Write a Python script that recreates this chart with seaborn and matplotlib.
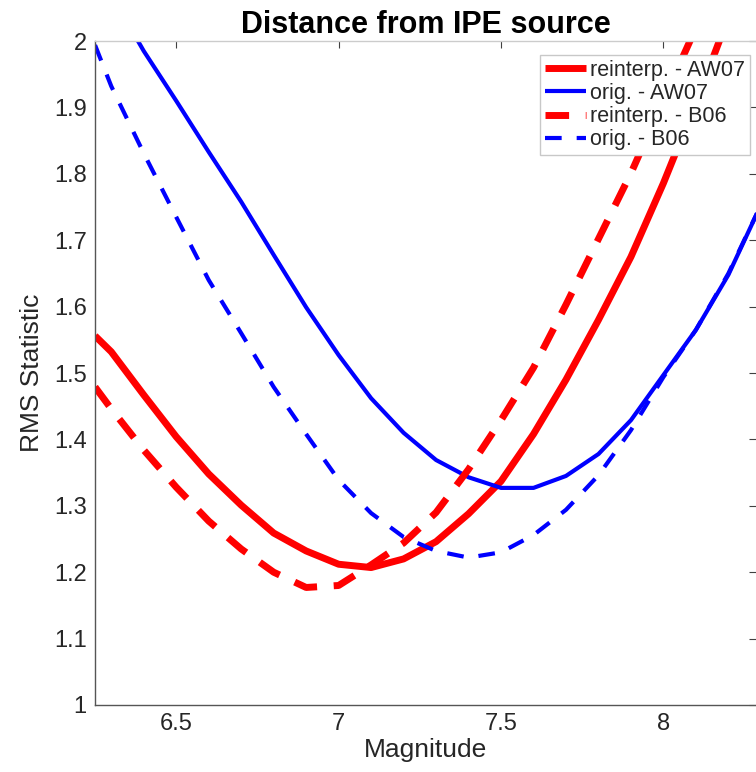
import matplotlib
matplotlib.use("Agg")
import matplotlib.pyplot as plt
import seaborn as sns
import pandas as pd
from matplotlib.ticker import FuncFormatter

# ---- data ----
mag = [6.25, 6.3, 6.4, 6.5, 6.6, 6.7, 6.8, 6.9, 7.0, 7.1, 7.2, 7.3, 7.4, 7.5,
       7.6, 7.7, 7.8, 7.9, 8.0, 8.1, 8.2, 8.3]

reinterp_aw07 = [1.556, 1.532, 1.467, 1.404, 1.348, 1.301, 1.259, 1.232, 1.212, 1.207,
                 1.220, 1.246, 1.288, 1.337, 1.408, 1.490, 1.580, 1.675, 1.786, 1.907,
                 2.036, 2.16]
orig_aw07 = [None, 2.07, 1.985, 1.910, 1.833, 1.758, 1.678, 1.599, 1.527, 1.462,
             1.410, 1.369, 1.343, 1.327, 1.327, 1.345, 1.378, 1.429, 1.497, 1.565,
             1.648, 1.753]
reinterp_b06 = [1.479, 1.446, 1.384, 1.328, 1.277, 1.235, 1.200, 1.177, 1.180, 1.211,
                1.244, 1.290, 1.355, 1.429, 1.508, 1.603, 1.702, 1.801, 1.911, 2.02,
                2.14, 2.26]
orig_b06 = [1.994, 1.932, 1.831, 1.735, 1.640, 1.560, 1.479, 1.408, 1.339, 1.289,
            1.253, 1.232, 1.222, 1.230, 1.256, 1.294, 1.346, 1.414, 1.494, 1.565,
            1.650, 1.753]

labels = ["reinterp. - AW07", "orig. - AW07", "reinterp. - B06", "orig. - B06"]
series = [reinterp_aw07, orig_aw07, reinterp_b06, orig_b06]

title = "Distance from IPE source"
xlabel = "Magnitude"
ylabel = "RMS Statistic"
xticks = [6.5, 7, 7.5, 8]
yticks = [1.0, 1.1, 1.2, 1.3, 1.4, 1.5, 1.6, 1.7, 1.8, 1.9, 2.0]

# ---- styling ----
sns.set_theme(style="white")
plt.rcParams["font.family"] = ["Liberation Sans", "DejaVu Sans"]

fig = plt.figure(figsize=(7.56, 7.72), dpi=100)
ax = fig.add_axes([0.1257, 0.0868, 0.8743, 0.860])

styles = [
    dict(color="#ff0000", lw=5.0, ls="-"),
    dict(color="#0000ff", lw=3.0, ls="-"),
    dict(color="#ff0000", lw=5.0, ls=(0, (3.4, 2.4))),
    dict(color="#0000ff", lw=3.0, ls=(0, (4.0, 3.6))),
]

for lab, ys, st in zip(labels, series, styles):
    df = pd.DataFrame({"Magnitude": mag, "RMS": ys}).dropna()
    sns.lineplot(data=df, x="Magnitude", y="RMS", ax=ax, label=lab,
                 color=st["color"], linewidth=st["lw"], linestyle=st["ls"],
                 solid_capstyle="butt", dash_capstyle="butt")

ax.set_xlim(6.25, 8.285)
ax.set_ylim(1.0, 2.0)
ax.set_xticks(xticks)
ax.set_yticks(yticks)
ax.xaxis.set_major_formatter(FuncFormatter(lambda v, p: f"{v:g}"))
ax.yaxis.set_major_formatter(FuncFormatter(lambda v, p: f"{v:g}"))

ax.set_title(title, fontsize=22, fontweight="bold", color="black", pad=6)
ax.set_xlabel(xlabel, fontsize=19, color="#262626", labelpad=2)
ax.set_ylabel(ylabel, fontsize=19, color="#262626", labelpad=7)

ax.tick_params(axis="both", direction="in", length=5, width=0.8, color="#404040",
               labelsize=17, labelcolor="#262626", top=True, right=True, pad=6)

for side in ["left", "bottom"]:
    ax.spines[side].set_color("#555555")
    ax.spines[side].set_linewidth(1.0)
ax.spines["top"].set_color("#cccccc")
ax.spines["top"].set_linewidth(1.0)
ax.spines["right"].set_visible(False)

leg = ax.legend(loc="upper right", bbox_to_anchor=(0.991, 0.979), fontsize=15.5,
                frameon=True, fancybox=False, edgecolor="#c8c8c8", framealpha=1.0,
                handlelength=1.9, handletextpad=0.2, borderpad=0.22,
                labelspacing=0.1, borderaxespad=0.0)
leg.get_frame().set_linewidth(1.0)

fig.savefig("out.png", dpi=100)
